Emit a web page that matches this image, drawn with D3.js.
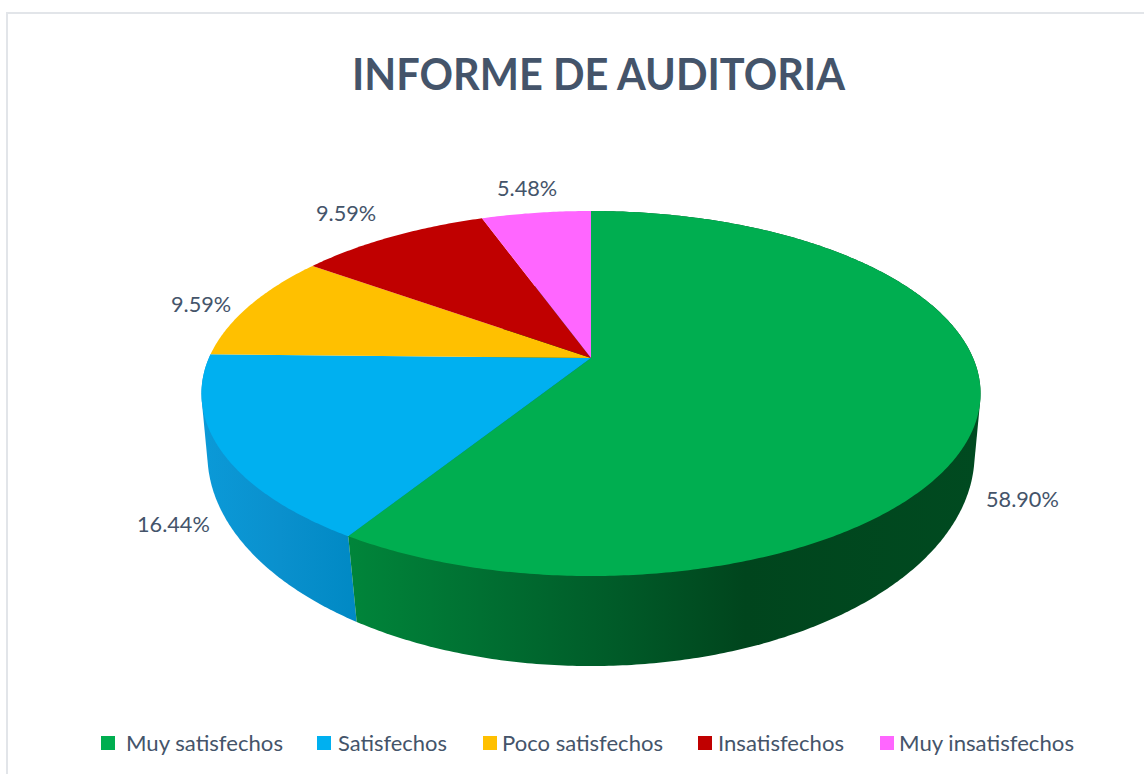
<!DOCTYPE html>
<html><head><meta charset="utf-8">
<script src="https://cdn.jsdelivr.net/npm/d3@7"></script>
<style>html,body{margin:0;padding:0;background:#fff;overflow:hidden}svg{display:block}text{font-family:Lato,"Open Sans",sans-serif}</style>
</head><body><svg id="c" width="1144" height="774"></svg>
<script>
const categories = ["Muy satisfechos","Satisfechos","Poco satisfechos","Insatisfechos","Muy insatisfechos"];
const values = [58.90,16.44,9.59,9.59,5.48];
const colors = ["#00ae50","#00b0f0","#ffc000","#c00000","#ff66ff"];
const labelX = [986,137,171,316,497];
const labelY = [507,532,312,221,196];
const legendSwatchX = [101,317,483,698,880];
const legendTextX = [126,338,502,718,899];
const legendTextW = [157,109,161,126,175];
const textColor = "#44546a";

const svg = d3.select("#c");
const defs = svg.append("defs");

// frame
svg.append("path").attr("d","M7 774V13H1144").attr("fill","none").attr("stroke","#e2e5e9").attr("stroke-width",2);

// title
svg.append("text").attr("x",352).attr("y",90).attr("font-size",44).attr("font-weight",700)
  .attr("fill",textColor).attr("textLength",493).attr("lengthAdjust","spacingAndGlyphs").text("INFORME DE AUDITORIA");

// perspective projection of the disc planes
const plane = (x0,y0,A,B,k) => a => {
  const X = Math.sin(a), Y = Math.cos(a), w = 1 + k*Y;
  return [x0 + B*X/w, y0 - A*Y/w];
};
const topP = plane(591,358,175.6,382.1,0.1945);
const botP = plane(591,418,205.9,378,0.17);

const pie = d3.pie().sort(null).value(d=>d)(values);
const line = d3.line();
const arcAngles = (s,e) => { const n = Math.max(2,Math.ceil((e-s)/0.01)); return d3.range(n+1).map(i=>s+(e-s)*i/n); };

// side walls: hull of the rim points of each visible slice
const gradients = {
  0:[[350,"#00853a"],[480,"#007032"],[620,"#005a28"],[745,"#00451d"],[980,"#004a20"]],
  1:[[200,"#0b9ad8"],[280,"#0a90cd"],[357,"#0089c4"]]
};
[1,0].forEach(i=>{
  const g = defs.append("linearGradient").attr("id","side"+i).attr("gradientUnits","userSpaceOnUse")
    .attr("x1",gradients[i][0][0]).attr("x2",gradients[i][gradients[i].length-1][0]).attr("y1",0).attr("y2",0);
  const x0 = gradients[i][0][0], x1 = gradients[i][gradients[i].length-1][0];
  gradients[i].forEach(s=>g.append("stop").attr("offset",(s[0]-x0)/(x1-x0)).attr("stop-color",s[1]));
  const as = arcAngles(pie[i].startAngle,pie[i].endAngle);
  const hull = d3.polygonHull(as.map(topP).concat(as.map(botP)));
  svg.append("path").attr("d",line(hull)+"Z").attr("fill","url(#side"+i+")");
});

// top face
svg.append("g").selectAll("path").data(pie).join("path")
  .attr("d",p=>line([[591,358]].concat(arcAngles(p.startAngle,p.endAngle).map(topP)))+"Z")
  .attr("fill",(p,i)=>colors[i]);

// data labels
svg.append("g").selectAll("text").data(values).join("text")
  .attr("x",(d,i)=>labelX[i]).attr("y",(d,i)=>labelY[i]).attr("font-size",21.7).attr("fill",textColor)
  .text(d=>d.toFixed(2)+"%");

// legend
const lg = svg.append("g");
lg.selectAll("rect").data(categories).join("rect")
  .attr("x",(d,i)=>legendSwatchX[i]).attr("y",736).attr("width",14).attr("height",14).attr("fill",(d,i)=>colors[i]);
lg.selectAll("text").data(categories).join("text")
  .attr("x",(d,i)=>legendTextX[i]).attr("y",751).attr("font-size",22).attr("fill",textColor)
  .attr("textLength",(d,i)=>legendTextW[i]).attr("lengthAdjust","spacingAndGlyphs").text(d=>d);
</script></body></html>
